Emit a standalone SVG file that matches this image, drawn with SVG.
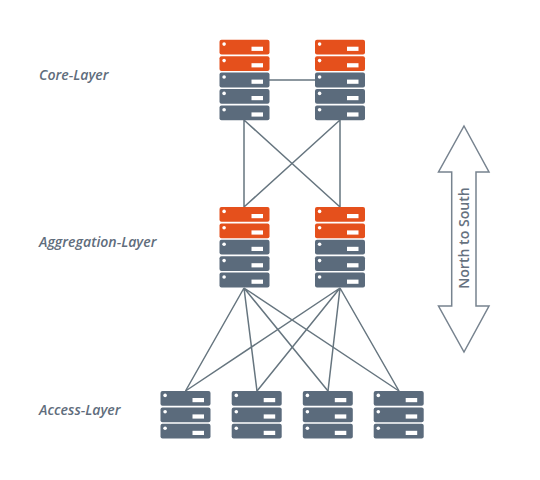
<svg xmlns="http://www.w3.org/2000/svg" width="540" height="480" viewBox="0 0 540 480">
<style>
.o{fill:#e5501c}.g{fill:#5b6b7c}
.d,.b{fill:#fff}
.c{stroke:#66757f;stroke-width:1.5;fill:none}
.l{font-family:"Open Sans",sans-serif;font-style:italic;font-weight:600;font-size:14.1px;fill:#5f6d7c}
.n{font-family:"Open Sans",sans-serif;font-size:14.1px;font-weight:600;fill:#66727f;text-anchor:middle}
</style>
<defs>
<g id="unit"><rect width="50" height="14.8" rx="2"/><circle class="d" cx="4.600" cy="4.400" r="1.800"/><rect class="b" x="32" y="7" width="11.500" height="4.200"/></g>
</defs>
<rect width="540" height="480" fill="#fff"/>
<g id="connectors" class="c">
<path d="M269 80H315"/>
<path d="M244 120V207M244 120L340 207M340 120L244 207M340 120V207"/>
<path d="M244 288L185.500 391M244 288L257 391M244 288L328 391M244 288L399 391"/>
<path d="M340 288L185.500 391M340 288L257 391M340 288L328 391M340 288L399 391"/>
</g>
<g id="core-1"><use href="#unit" class="o" x="219.500" y="39.700"/><use href="#unit" class="o" x="219.500" y="56.200"/><use href="#unit" class="g" x="219.500" y="72.600"/><use href="#unit" class="g" x="219.500" y="89"/><use href="#unit" class="g" x="219.500" y="105.400"/></g>
<g id="core-2"><use href="#unit" class="o" x="315" y="39.700"/><use href="#unit" class="o" x="315" y="56.200"/><use href="#unit" class="g" x="315" y="72.600"/><use href="#unit" class="g" x="315" y="89"/><use href="#unit" class="g" x="315" y="105.400"/></g>
<g id="agg-1"><use href="#unit" class="o" x="219.500" y="207"/><use href="#unit" class="o" x="219.500" y="223.400"/><use href="#unit" class="g" x="219.500" y="239.800"/><use href="#unit" class="g" x="219.500" y="256.200"/><use href="#unit" class="g" x="219.500" y="272.600"/></g>
<g id="agg-2"><use href="#unit" class="o" x="315" y="207"/><use href="#unit" class="o" x="315" y="223.400"/><use href="#unit" class="g" x="315" y="239.800"/><use href="#unit" class="g" x="315" y="256.200"/><use href="#unit" class="g" x="315" y="272.600"/></g>
<g id="access-1"><use href="#unit" class="g" x="160.500" y="391"/><use href="#unit" class="g" x="160.500" y="407.400"/><use href="#unit" class="g" x="160.500" y="423.800"/></g>
<g id="access-2"><use href="#unit" class="g" x="231.700" y="391"/><use href="#unit" class="g" x="231.700" y="407.400"/><use href="#unit" class="g" x="231.700" y="423.800"/></g>
<g id="access-3"><use href="#unit" class="g" x="302.800" y="391"/><use href="#unit" class="g" x="302.800" y="407.400"/><use href="#unit" class="g" x="302.800" y="423.800"/></g>
<g id="access-4"><use href="#unit" class="g" x="373.700" y="391"/><use href="#unit" class="g" x="373.700" y="407.400"/><use href="#unit" class="g" x="373.700" y="423.800"/></g>
<g id="label-core"><text class="l" x="39" y="80">Core-Layer</text></g>
<g id="label-agg"><text class="l" x="39" y="247">Aggregation-Layer</text></g>
<g id="label-access"><text class="l" x="39" y="415">Access-Layer</text></g>
<g id="north-south">
<path d="M464 126L489 172H476V306H489L464 352L438.500 306H451.700V172H438.500Z" fill="#fff" stroke="#77838f" stroke-width="1.500"/>
<text class="n" transform="translate(469 238) rotate(-90)">North to South</text>
</g>
</svg>
